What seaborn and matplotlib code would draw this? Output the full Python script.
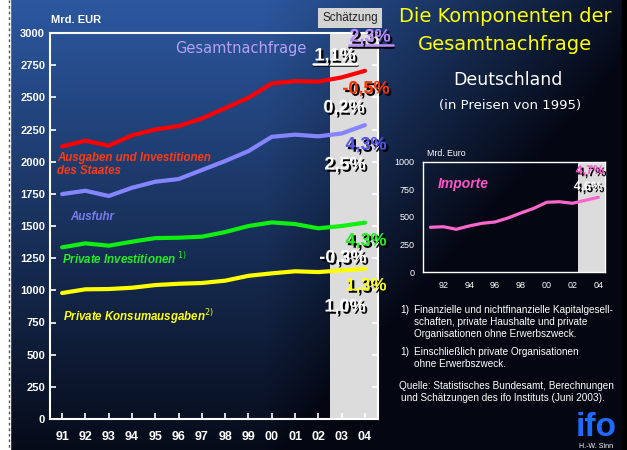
import numpy as np
import pandas as pd
import matplotlib
matplotlib.use('Agg')
import matplotlib.pyplot as plt
import matplotlib.patheffects as pe
from matplotlib.lines import Line2D
import seaborn as sns

# --- data (Mrd. EUR, in Preisen von 1995) ---
years = ['91', '92', '93', '94', '95', '96', '97', '98', '99', '00', '01', '02', '03', '04']
gesamt = [2118, 2163, 2124, 2205, 2250, 2277, 2336, 2416, 2497, 2608, 2626, 2622, 2655, 2706]
ausfuhr = [1748, 1774, 1733, 1797, 1844, 1865, 1935, 2005, 2082, 2193, 2210, 2197, 2219, 2284]
invest = [1334, 1365, 1347, 1378, 1406, 1409, 1417, 1453, 1500, 1528, 1515, 1482, 1500, 1526]
konsum = [979, 1008, 1010, 1020, 1041, 1051, 1057, 1075, 1113, 1132, 1148, 1142, 1155, 1166]
importe = [407, 412, 389, 419, 443, 455, 491, 536, 578, 633, 638, 624, 651, 678]

main_ticks = [0, 250, 500, 750, 1000, 1250, 1500, 1750, 2000, 2250, 2500, 2750, 3000]
inset_ticks = [0, 250, 500, 750, 1000]

df = pd.DataFrame({'idx': range(len(years)), 'year': years, 'gesamt': gesamt,
                   'ausfuhr': ausfuhr, 'invest': invest, 'konsum': konsum, 'importe': importe})

sns.set_style('white')
plt.rcParams['font.family'] = ['Liberation Sans', 'DejaVu Sans']

W, H = 627, 450
fig = plt.figure(figsize=(6.27, 4.5), dpi=100)

# --- background gradient ---
bg = fig.add_axes([0, 0, 1, 1])
gx, gy = np.meshgrid(np.linspace(0, 1, 300), np.linspace(0, 1, 220))
t = np.clip(0.95 * gy + 1.5 * np.clip(gx - 0.42, 0, None), 0, 1)
top = np.array([44, 88, 160]) / 255
bot = np.array([4, 7, 18]) / 255
img = top[None, None, :] * (1 - t[..., None]) + bot[None, None, :] * t[..., None]
bg.imshow(img, extent=[0, W, H, 0], aspect='auto')
bg.add_patch(plt.Rectangle((0, 0), 10, H, color='white'))
bg.plot([9, 9], [0, H], color='#555555', lw=1, ls=(0, (2, 2)))
bg.add_patch(plt.Rectangle((622, 0), 6, H, color='black'))
bg.set_xlim(0, W)
bg.set_ylim(H, 0)
bg.axis('off')


def px(x, y):
    return x / W, 1 - y / H


shadow = [pe.SimplePatchShadow(offset=(1.6, -1.6), shadow_rgbFace='black', alpha=1.0), pe.Normal()]


def ftext(x, y, s, **kw):
    fx, fy = px(x, y)
    return fig.text(fx, fy, s, **kw)


# --- main chart ---
ax = fig.add_axes([50 / W, 1 - 419 / H, (378 - 50) / W, (419 - 33) / H])
ax.patch.set_alpha(0)
for col, c in [('gesamt', '#ff0000'), ('ausfuhr', '#8585ff'), ('invest', '#11ee11'), ('konsum', '#ffff00')]:
    sns.lineplot(data=df, x='idx', y=col, ax=ax, color=c, linewidth=3, zorder=3)
ax.set_xlim(-0.52, 13.56)
ax.set_ylim(0, 3000)
# estimate period shading (from between 02 and 03)
ax.add_patch(plt.Rectangle((11.5, 0), 3, 3000, color='#dcdcdc', zorder=0.5, lw=0))
ax.set_xticks(range(len(years)))
ax.set_xticklabels(years)
ax.set_yticks(main_ticks)
ax.set_xlabel('')
ax.set_ylabel('')
ax.tick_params(axis='both', direction='in', colors='white', length=4, width=1.2,
               labelsize=8, right=True, left=True, bottom=True)
ax.tick_params(axis='x', pad=9, labelsize=9)
for lab in ax.get_xticklabels() + ax.get_yticklabels():
    lab.set_fontweight('bold')
for sp in ax.spines.values():
    sp.set_color('white')
    sp.set_linewidth(1.5)

# Schätzung box
ftext(350, 18, 'Schätzung', fontsize=8.5, color='#222222', ha='center', va='center',
      bbox=dict(boxstyle='square,pad=0.35', fc='#d4d4d4', ec='none'))

ftext(51, 20, 'Mrd. EUR', fontsize=8, color='white', fontweight='bold', va='center')
ftext(175, 49, 'Gesamtnachfrage', fontsize=10.5, color='#b6a0f2', va='center', family='DejaVu Sans')

lab_kw = dict(fontsize=8.3, fontweight='bold', style='italic', va='center')
ftext(57, 158, 'Ausgaben und Investitionen', color='#ff3a10', **lab_kw)
ftext(57, 171, 'des Staates', color='#ff3a10', **lab_kw)
ftext(70, 217, 'Ausfuhr', color='#7c7cf0', **lab_kw)
ftext(62, 259, 'Private Investitionen $^{1)}$', color='#22ee22', **lab_kw)
ftext(63, 317, 'Private Konsumausgaben$^{2)}$', color='#ffff10', **lab_kw)

pct_kw = dict(fontsize=13, fontweight='bold', ha='center', va='center', path_effects=shadow)
ftext(370, 37, '2,3%', color='#b98cff', **pct_kw)
ftext(335, 56, '1,1%', color='white', **pct_kw)
ftext(366, 89, '-0,5%', color='#ff3300', **pct_kw)
ftext(344, 108, '0,2%', color='white', **pct_kw)
ftext(366, 145, '4,3%', color='#5555ee', **pct_kw)
ftext(345, 165, '2,5%', color='white', **pct_kw)
ftext(366, 241, '4,3%', color='#22ee22', **pct_kw)
ftext(343, 258, '-0,3%', color='white', **pct_kw)
ftext(366, 286, '1,3%', color='#ffff10', **pct_kw)
ftext(345, 307, '1,0%', color='white', **pct_kw)

for x0, x1, y, c in [(349, 393, 45, '#b98cff'), (313, 357, 63.5, 'white')]:
    fig.add_artist(Line2D([x0 / W, x1 / W], [1 - (y + 1.8) / H] * 2, color='black', lw=1.8))
    fig.add_artist(Line2D([x0 / W, x1 / W], [1 - y / H] * 2, color=c, lw=1.8))

# --- right-hand titles ---
ftext(505, 17, 'Die Komponenten der', fontsize=14, color='#ffff00', ha='center', va='center',
      family='DejaVu Sans')
ftext(505, 44, 'Gesamtnachfrage', fontsize=14, color='#ffff00', ha='center', va='center',
      family='DejaVu Sans')
ftext(508, 80, 'Deutschland', fontsize=12.5, color='white', ha='center', va='center',
      family='DejaVu Sans')
ftext(510, 106, '(in Preisen von 1995)', fontsize=9.5, color='white', ha='center', va='center',
      family='DejaVu Sans')

# --- inset: Importe ---
ax2 = fig.add_axes([422.7 / W, 1 - 272.3 / H, (605 - 422.7) / W, (272.3 - 161.7) / H])
ax2.patch.set_alpha(0)
sns.lineplot(data=df, x='idx', y='importe', ax=ax2, color='#ff66cc', linewidth=2.3, zorder=3)
ax2.set_xlim(-0.6, 13.52)
ax2.set_ylim(0, 1000)
ax2.add_patch(plt.Rectangle((11.45, 0), 3, 1000, color='#dcdcdc', zorder=0.5, lw=0))
ax2.set_xticks(range(len(years)))
ax2.set_xticklabels([y if i % 2 == 1 else '' for i, y in enumerate(years)])
ax2.set_yticks(inset_ticks)
ax2.set_xlabel('')
ax2.set_ylabel('')
ax2.tick_params(axis='both', direction='out', colors='white', length=2.5, width=0.8, labelsize=6.5)
for sp in ax2.spines.values():
    sp.set_color('white')
    sp.set_linewidth(1)

ftext(427, 153, 'Mrd. Euro', fontsize=6.3, color='white', va='center')
ftext(438, 184, 'Importe', fontsize=10, color='#ff55c8', fontweight='bold', style='italic', va='center')
ftext(590, 171, '4,7%', fontsize=9, fontweight='bold', color='#ff55c8', ha='center', va='center',
      path_effects=shadow)
ftext(588, 187, '4,6%', fontsize=9, fontweight='bold', color='white', ha='center', va='center',
      path_effects=shadow)

# --- footnotes ---
fn_kw = dict(fontsize=7.2, color='white', va='center')
ftext(400, 310, '1)', **fn_kw)
ftext(414, 310, 'Finanzielle und nichtfinanzielle Kapitalgesell-', **fn_kw)
ftext(414, 322, 'schaften, private Haushalte und private', **fn_kw)
ftext(414, 334, 'Organisationen ohne Erwerbszweck.', **fn_kw)
ftext(400, 352, '1)', **fn_kw)
ftext(414, 352, 'Einschließlich private Organisationen', **fn_kw)
ftext(414, 364, 'ohne Erwerbszweck.', **fn_kw)
ftext(399, 386, 'Quelle: Statistisches Bundesamt, Berechnungen', **fn_kw)
ftext(401, 398, 'und Schätzungen des ifo Instituts (Juni 2003).', **fn_kw)

ftext(596, 428, 'ifo', fontsize=24, fontweight='heavy', color='#1e6bff', ha='center', va='center')
ftext(596, 446, 'H.-W. Sinn', fontsize=5, color='white', ha='center', va='center')

fig.savefig('out.png', dpi=100)
